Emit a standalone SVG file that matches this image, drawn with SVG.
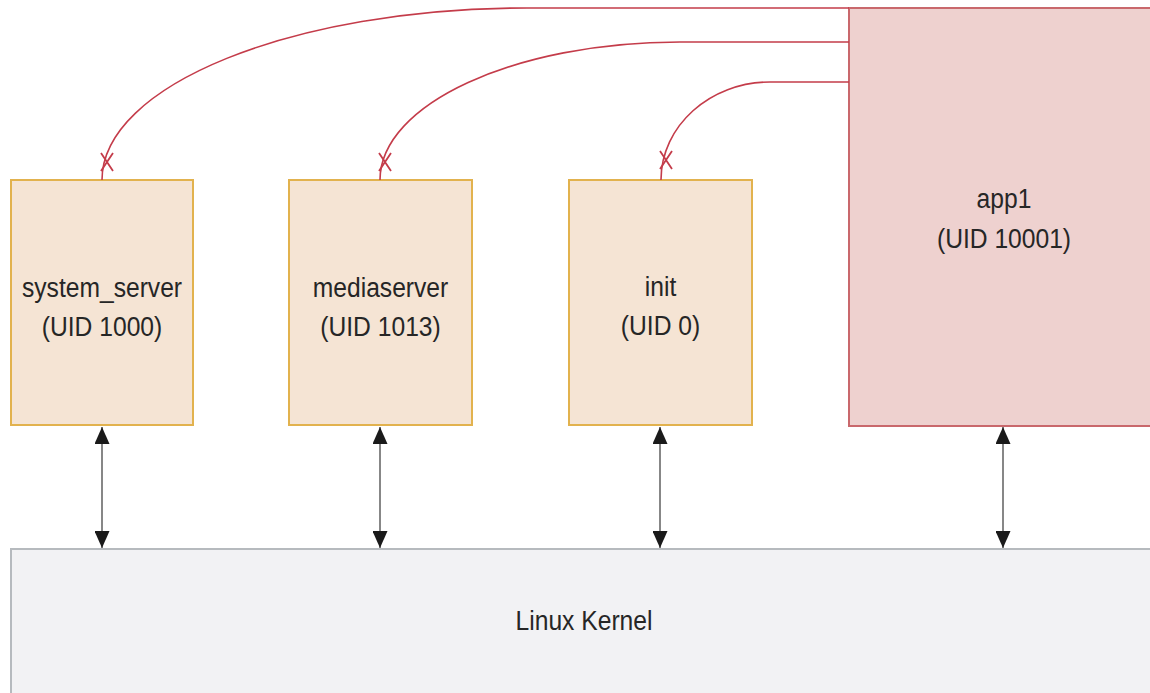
<svg xmlns="http://www.w3.org/2000/svg" width="1150" height="693" viewBox="0 0 1150 693">
<defs>
<style>
.proc{fill:#f5e4d4;stroke:#e2b24e;stroke-width:2}
.app{fill:#eed1cf;stroke:#c9686c;stroke-width:2}
.kern{fill:#f2f2f4;stroke:#b6babe;stroke-width:2}
.lbl{font-family:"Liberation Sans",Arial,Helvetica,sans-serif;font-size:28px;fill:#262626;text-anchor:middle}
.red{fill:none;stroke:#c43c4a;stroke-width:1.6}
.cross{fill:none;stroke:#c43c4a;stroke-width:1.8}
.blk{fill:none;stroke:#7a7a7a;stroke-width:1.8}
</style>
<marker id="ah" viewBox="0 0 17 15" refX="17" refY="7.5" markerWidth="17" markerHeight="15" markerUnits="userSpaceOnUse" orient="auto-start-reverse">
<path d="M0,0 L17,7.5 L0,15 Z" fill="#1a1a1a"/>
</marker>
</defs>
<rect width="1150" height="693" fill="#ffffff"/>
<g id="kernel">
<rect class="kern" x="11" y="549" width="1150" height="160"/>
<g transform="translate(584,630) scale(0.88,1)"><text class="lbl" x="0" y="0">Linux Kernel</text></g>
</g>
<g id="app1">
<rect class="app" x="849" y="8" width="320" height="418"/>
<g transform="translate(1004,208) scale(0.88,1)"><text class="lbl" x="0" y="0">app1</text><text class="lbl" x="0" y="40">(UID 10001)</text></g>
</g>
<g id="system_server">
<rect class="proc" x="11" y="180" width="182" height="245"/>
<g transform="translate(102,297) scale(0.88,1)"><text class="lbl" x="0" y="0">system_server</text><text class="lbl" x="0" y="39">(UID 1000)</text></g>
</g>
<g id="mediaserver">
<rect class="proc" x="289" y="180" width="183" height="245"/>
<g transform="translate(380.5,297) scale(0.88,1)"><text class="lbl" x="0" y="0">mediaserver</text><text class="lbl" x="0" y="39">(UID 1013)</text></g>
</g>
<g id="init">
<rect class="proc" x="569" y="180" width="183" height="245"/>
<g transform="translate(660.5,296) scale(0.88,1)"><text class="lbl" x="0" y="0">init</text><text class="lbl" x="0" y="39">(UID 0)</text></g>
</g>
<g id="connectors">
<path class="red" d="M849,8 H527 C293,8 102,85 102,180"/>
<path class="red" d="M849,42 H680 C515,42 380,104 380,180"/>
<path class="red" d="M849,82 H770 C710,82 661,126 661,180"/>
<path class="cross" d="M101,153 L113,171 M113,153 L101,171"/>
<path class="cross" d="M379,153 L391,171 M391,153 L379,171"/>
<path class="cross" d="M660,151 L672,169 M672,151 L660,169"/>
<path class="blk" d="M102,427 V548" marker-start="url(#ah)" marker-end="url(#ah)"/>
<path class="blk" d="M380,427 V548" marker-start="url(#ah)" marker-end="url(#ah)"/>
<path class="blk" d="M660,427 V548" marker-start="url(#ah)" marker-end="url(#ah)"/>
<path class="blk" d="M1003,427 V548" marker-start="url(#ah)" marker-end="url(#ah)"/>
</g>
</svg>
